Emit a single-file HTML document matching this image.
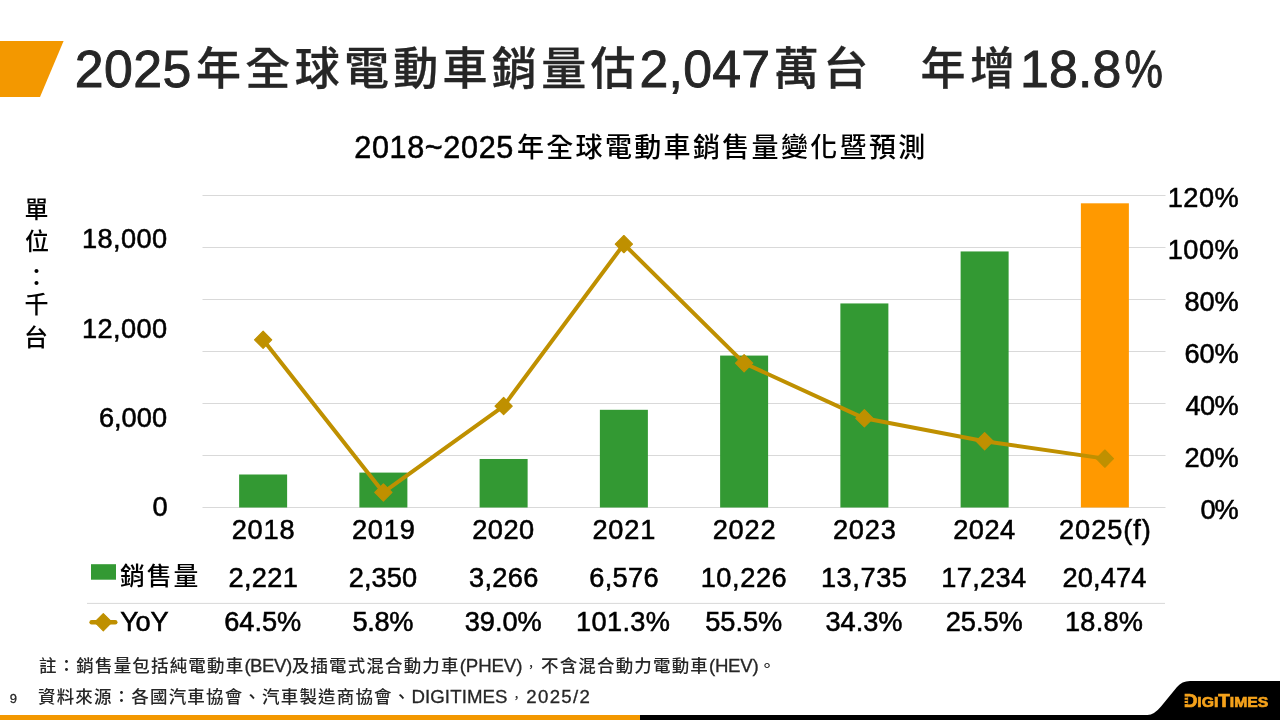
<!DOCTYPE html>
<html lang="zh-Hant">
<head>
<meta charset="utf-8">
<title>2025年全球電動車銷量估2,047萬台 年增18.8%</title>
<style>
html,body{margin:0;padding:0;background:#fff;}
body{width:1280px;height:720px;overflow:hidden;font-family:"Liberation Sans","Noto Sans CJK TC",sans-serif;}
svg{display:block;position:absolute;left:0;top:0;}
text{white-space:pre;}
</style>
</head>
<body>
<svg width="1280" height="720" viewBox="0 0 1280 720">
<rect width="1280" height="720" fill="#ffffff"/>
<path d="M0 41 L63.6 41 L40 97 L0 97 Z" fill="#f39800"/>
<rect x="0" y="715" width="640" height="5" fill="#f39800"/>
<rect x="640" y="715" width="640" height="5" fill="#000"/>
<path d="M1280 681 L1190 681 Q1181.9 681 1177 687 L1161 706.5 Q1154 715 1147.5 715 L1280 715 Z" fill="#000"/>
<text x="1183.7" y="706.7" fill="#f5a21b" stroke="#f5a21b" stroke-width="0.7" textLength="84.6" lengthAdjust="spacingAndGlyphs" style="font-family:'Liberation Sans', sans-serif;font-weight:bold;font-size:15px"><tspan style="font-size:18px">D</tspan>IGI<tspan style="font-size:18px">T</tspan>IMES</text>
<rect x="1182.4" y="696.6" width="5.2" height="1.1" fill="#000"/>
<rect x="1182.4" y="699.8" width="5.2" height="1.1" fill="#000"/>
<rect x="1182.4" y="703.0" width="5.2" height="1.1" fill="#000"/>
<rect x="202.5" y="195.0" width="963.0" height="1" fill="#d9d9d9"/>
<rect x="202.5" y="247.0" width="963.0" height="1" fill="#d9d9d9"/>
<rect x="202.5" y="299.0" width="963.0" height="1" fill="#d9d9d9"/>
<rect x="202.5" y="351.0" width="963.0" height="1" fill="#d9d9d9"/>
<rect x="202.5" y="403.0" width="963.0" height="1" fill="#d9d9d9"/>
<rect x="202.5" y="455.0" width="963.0" height="1" fill="#d9d9d9"/>
<rect x="202.5" y="507.0" width="963.0" height="1" fill="#d9d9d9"/>
<rect x="239.12" y="474.50" width="48" height="33.00" fill="#339933"/>
<rect x="359.38" y="472.59" width="48" height="34.91" fill="#339933"/>
<rect x="479.62" y="458.98" width="48" height="48.52" fill="#339933"/>
<rect x="599.88" y="409.80" width="48" height="97.70" fill="#339933"/>
<rect x="720.12" y="355.57" width="48" height="151.93" fill="#339933"/>
<rect x="840.38" y="303.44" width="48" height="204.06" fill="#339933"/>
<rect x="960.62" y="251.45" width="48" height="256.05" fill="#339933"/>
<rect x="1080.88" y="203.31" width="48" height="304.19" fill="#ff9900"/>
<polyline fill="none" stroke="#bf9000" stroke-width="4" stroke-linejoin="round" stroke-linecap="round" points="263.12,339.80 383.38,492.42 503.62,406.10 623.88,244.12 744.12,363.20 864.38,418.32 984.62,441.20 1104.88,458.62"/>
<path d="M263.12 331.20 L271.73 339.80 L263.12 348.40 L254.53 339.80 Z" fill="#bf9000" stroke="#bf9000" stroke-width="1.2" stroke-linejoin="round"/>
<path d="M383.38 483.82 L391.98 492.42 L383.38 501.02 L374.77 492.42 Z" fill="#bf9000" stroke="#bf9000" stroke-width="1.2" stroke-linejoin="round"/>
<path d="M503.62 397.50 L512.23 406.10 L503.62 414.70 L495.02 406.10 Z" fill="#bf9000" stroke="#bf9000" stroke-width="1.2" stroke-linejoin="round"/>
<path d="M623.88 235.52 L632.48 244.12 L623.88 252.72 L615.27 244.12 Z" fill="#bf9000" stroke="#bf9000" stroke-width="1.2" stroke-linejoin="round"/>
<path d="M744.12 354.60 L752.73 363.20 L744.12 371.80 L735.52 363.20 Z" fill="#bf9000" stroke="#bf9000" stroke-width="1.2" stroke-linejoin="round"/>
<path d="M864.38 409.72 L872.98 418.32 L864.38 426.92 L855.77 418.32 Z" fill="#bf9000" stroke="#bf9000" stroke-width="1.2" stroke-linejoin="round"/>
<path d="M984.62 432.60 L993.23 441.20 L984.62 449.80 L976.02 441.20 Z" fill="#bf9000" stroke="#bf9000" stroke-width="1.2" stroke-linejoin="round"/>
<path d="M1104.88 450.02 L1113.47 458.62 L1104.88 467.22 L1096.28 458.62 Z" fill="#bf9000" stroke="#bf9000" stroke-width="1.2" stroke-linejoin="round"/>
<rect x="87" y="602.9" width="1078.0" height="1" fill="#d9d9d9"/>
<rect x="91" y="564.2" width="25" height="15.5" fill="#339933"/>
<rect x="89.4" y="620.1" width="28.1" height="4.4" rx="2.2" fill="#bf9000"/>
<path d="M103.3 613.6 L111.89999999999999 622.2 L103.3 630.8000000000001 L94.7 622.2 Z" fill="#bf9000" stroke="#bf9000" stroke-width="1.2" stroke-linejoin="round"/>
<text x="74.70" y="87.00" fill="#262626" style="font-family:'Liberation Sans', sans-serif;font-size:51.8px;letter-spacing:0.476px;stroke:#262626;stroke-width:0.9px;">2025</text>
<text x="196.05" y="84.65" fill="#262626" style="font-family:'Liberation Sans', 'Noto Sans CJK TC', sans-serif;font-size:45px;letter-spacing:4.300px;font-weight:500;stroke:#262626;stroke-width:0.3px;">年全球電動車銷量估</text>
<text x="639.45" y="87.00" fill="#262626" style="font-family:'Liberation Sans', sans-serif;font-size:51.8px;letter-spacing:0.260px;stroke:#262626;stroke-width:0.9px;">2,047</text>
<text x="773.85" y="84.65" fill="#262626" style="font-family:'Liberation Sans', 'Noto Sans CJK TC', sans-serif;font-size:45px;letter-spacing:4.300px;font-weight:500;stroke:#262626;stroke-width:0.3px;">萬台</text>
<text x="920.60" y="84.65" fill="#262626" style="font-family:'Liberation Sans', 'Noto Sans CJK TC', sans-serif;font-size:45px;letter-spacing:4.300px;font-weight:500;stroke:#262626;stroke-width:0.3px;">年增</text>
<text x="1019.95" y="87.00" fill="#262626" style="font-family:'Liberation Sans', sans-serif;font-size:51.8px;letter-spacing:0.198px;stroke:#262626;stroke-width:0.9px;">18.8</text>
<text transform="translate(1124.54 87.00) scale(0.8352 1)" fill="#262626" style="font-family:'Liberation Sans', sans-serif;font-size:51.8px;stroke:#262626;stroke-width:0.9px;">%</text>
<text x="354.27" y="157.90" fill="#000" style="font-family:'Liberation Sans', sans-serif;font-size:30.6px;letter-spacing:0.635px;stroke:#000;stroke-width:0.55px;">2018~2025</text>
<text x="516.93" y="157.30" fill="#000" style="font-family:'Liberation Sans', 'Noto Sans CJK TC', sans-serif;font-size:27px;letter-spacing:2.330px;font-weight:500;">年全球電動車銷售量變化暨預測</text>
<text x="231.65" y="538.60" fill="#000" style="font-family:'Liberation Sans', sans-serif;font-size:27.2px;letter-spacing:0.863px;stroke:#000;stroke-width:0.55px;">2018</text>
<text x="351.90" y="538.60" fill="#000" style="font-family:'Liberation Sans', sans-serif;font-size:27.2px;letter-spacing:0.863px;stroke:#000;stroke-width:0.55px;">2019</text>
<text x="472.15" y="538.60" fill="#000" style="font-family:'Liberation Sans', sans-serif;font-size:27.2px;letter-spacing:0.530px;stroke:#000;stroke-width:0.55px;">2020</text>
<text x="592.40" y="538.60" fill="#000" style="font-family:'Liberation Sans', sans-serif;font-size:27.2px;letter-spacing:0.863px;stroke:#000;stroke-width:0.55px;">2021</text>
<text x="712.65" y="538.60" fill="#000" style="font-family:'Liberation Sans', sans-serif;font-size:27.2px;letter-spacing:0.863px;stroke:#000;stroke-width:0.55px;">2022</text>
<text x="832.90" y="538.60" fill="#000" style="font-family:'Liberation Sans', sans-serif;font-size:27.2px;letter-spacing:0.863px;stroke:#000;stroke-width:0.55px;">2023</text>
<text x="953.15" y="538.60" fill="#000" style="font-family:'Liberation Sans', sans-serif;font-size:27.2px;letter-spacing:0.530px;stroke:#000;stroke-width:0.55px;">2024</text>
<text x="1059.00" y="538.60" fill="#000" style="font-family:'Liberation Sans', sans-serif;font-size:27.2px;letter-spacing:0.944px;stroke:#000;stroke-width:0.55px;">2025(f)</text>
<text x="228.60" y="586.90" fill="#000" style="font-family:'Liberation Sans', sans-serif;font-size:27.2px;letter-spacing:0.284px;stroke:#000;stroke-width:0.55px;">2,221</text>
<text x="348.85" y="586.90" fill="#000" style="font-family:'Liberation Sans', sans-serif;font-size:27.2px;letter-spacing:0.034px;stroke:#000;stroke-width:0.55px;">2,350</text>
<text x="469.10" y="586.90" fill="#000" style="font-family:'Liberation Sans', sans-serif;font-size:27.2px;letter-spacing:0.284px;stroke:#000;stroke-width:0.55px;">3,266</text>
<text x="589.35" y="586.90" fill="#000" style="font-family:'Liberation Sans', sans-serif;font-size:27.2px;letter-spacing:0.284px;stroke:#000;stroke-width:0.55px;">6,576</text>
<text x="700.65" y="586.90" fill="#000" style="font-family:'Liberation Sans', sans-serif;font-size:27.2px;letter-spacing:0.583px;stroke:#000;stroke-width:0.55px;">10,226</text>
<text x="820.90" y="586.90" fill="#000" style="font-family:'Liberation Sans', sans-serif;font-size:27.2px;letter-spacing:0.583px;stroke:#000;stroke-width:0.55px;">13,735</text>
<text x="941.15" y="586.90" fill="#000" style="font-family:'Liberation Sans', sans-serif;font-size:27.2px;letter-spacing:0.383px;stroke:#000;stroke-width:0.55px;">17,234</text>
<text x="1062.40" y="586.90" fill="#000" style="font-family:'Liberation Sans', sans-serif;font-size:27.2px;letter-spacing:0.183px;stroke:#000;stroke-width:0.55px;">20,474</text>
<text x="224.25" y="631.30" fill="#000" style="font-family:'Liberation Sans', sans-serif;font-size:27.2px;letter-spacing:-0.041px;stroke:#000;stroke-width:0.55px;">64.5%</text>
<text x="352.45" y="631.30" fill="#000" style="font-family:'Liberation Sans', sans-serif;font-size:27.2px;letter-spacing:-0.315px;stroke:#000;stroke-width:0.55px;">5.8%</text>
<text x="464.75" y="631.30" fill="#000" style="font-family:'Liberation Sans', sans-serif;font-size:27.2px;letter-spacing:-0.041px;stroke:#000;stroke-width:0.55px;">39.0%</text>
<text x="576.05" y="631.30" fill="#000" style="font-family:'Liberation Sans', sans-serif;font-size:27.2px;letter-spacing:0.323px;stroke:#000;stroke-width:0.55px;">101.3%</text>
<text x="705.25" y="631.30" fill="#000" style="font-family:'Liberation Sans', sans-serif;font-size:27.2px;letter-spacing:-0.041px;stroke:#000;stroke-width:0.55px;">55.5%</text>
<text x="825.50" y="631.30" fill="#000" style="font-family:'Liberation Sans', sans-serif;font-size:27.2px;letter-spacing:-0.041px;stroke:#000;stroke-width:0.55px;">34.3%</text>
<text x="945.75" y="631.30" fill="#000" style="font-family:'Liberation Sans', sans-serif;font-size:27.2px;letter-spacing:-0.041px;stroke:#000;stroke-width:0.55px;">25.5%</text>
<text x="1065.00" y="631.30" fill="#000" style="font-family:'Liberation Sans', sans-serif;font-size:27.2px;letter-spacing:0.209px;stroke:#000;stroke-width:0.55px;">18.8%</text>
<text x="1167.73" y="207.10" fill="#000" style="font-family:'Liberation Sans', sans-serif;font-size:27.2px;letter-spacing:0.463px;stroke:#000;stroke-width:0.55px;">120%</text>
<text x="1167.73" y="259.10" fill="#000" style="font-family:'Liberation Sans', sans-serif;font-size:27.2px;letter-spacing:0.463px;stroke:#000;stroke-width:0.55px;">100%</text>
<text x="1184.62" y="311.10" fill="#000" style="font-family:'Liberation Sans', sans-serif;font-size:27.2px;letter-spacing:-0.195px;stroke:#000;stroke-width:0.55px;">80%</text>
<text x="1184.62" y="363.10" fill="#000" style="font-family:'Liberation Sans', sans-serif;font-size:27.2px;letter-spacing:-0.195px;stroke:#000;stroke-width:0.55px;">60%</text>
<text x="1185.62" y="415.10" fill="#000" style="font-family:'Liberation Sans', sans-serif;font-size:27.2px;letter-spacing:-0.695px;stroke:#000;stroke-width:0.55px;">40%</text>
<text x="1184.62" y="467.10" fill="#000" style="font-family:'Liberation Sans', sans-serif;font-size:27.2px;letter-spacing:-0.195px;stroke:#000;stroke-width:0.55px;">20%</text>
<text x="1200.53" y="519.10" fill="#000" style="font-family:'Liberation Sans', sans-serif;font-size:27.2px;letter-spacing:-1.170px;stroke:#000;stroke-width:0.55px;">0%</text>
<text x="81.97" y="248.40" fill="#000" style="font-family:'Liberation Sans', sans-serif;font-size:27.2px;letter-spacing:0.383px;stroke:#000;stroke-width:0.55px;">18,000</text>
<text x="81.97" y="337.54" fill="#000" style="font-family:'Liberation Sans', sans-serif;font-size:27.2px;letter-spacing:0.383px;stroke:#000;stroke-width:0.55px;">12,000</text>
<text x="98.88" y="426.68" fill="#000" style="font-family:'Liberation Sans', sans-serif;font-size:27.2px;letter-spacing:0.034px;stroke:#000;stroke-width:0.55px;">6,000</text>
<text x="152.57" y="515.82" fill="#000" style="font-family:'Liberation Sans', sans-serif;font-size:27.2px;stroke:#000;stroke-width:0.55px;">0</text>
<text x="120.08" y="585.30" fill="#000" style="font-family:'Liberation Sans', 'Noto Sans CJK TC', sans-serif;font-size:24.8px;letter-spacing:1.870px;font-weight:500;">銷售量</text>
<text x="120.28" y="631.30" fill="#000" style="font-family:'Liberation Sans', sans-serif;font-size:27.2px;letter-spacing:-0.279px;stroke:#000;stroke-width:0.55px;">YoY</text>
<text x="24.50" y="217.50" fill="#000" style="font-family:'Liberation Sans', 'Noto Sans CJK TC', sans-serif;font-size:24px;font-weight:500;">單</text>
<text x="25.00" y="250.10" fill="#000" style="font-family:'Liberation Sans', 'Noto Sans CJK TC', sans-serif;font-size:24px;font-weight:500;">位</text>
<text x="24.50" y="285.60" fill="#000" style="font-family:'Liberation Sans', 'Noto Sans CJK TC', sans-serif;font-size:24px;font-weight:500;">：</text>
<text x="24.50" y="313.40" fill="#000" style="font-family:'Liberation Sans', 'Noto Sans CJK TC', sans-serif;font-size:24px;font-weight:500;">千</text>
<text x="24.00" y="346.30" fill="#000" style="font-family:'Liberation Sans', 'Noto Sans CJK TC', sans-serif;font-size:24px;font-weight:500;">台</text>
<text x="9.65" y="702.60" fill="#262626" style="font-family:'Liberation Sans', sans-serif;font-size:13px;stroke:#262626;stroke-width:0.3px;">9</text>
<text x="39.0" y="672.4" fill="#262626" style="font-family:'Liberation Sans', 'Noto Sans CJK TC', sans-serif;font-size:17.5px;letter-spacing:1.17px;font-weight:500"><tspan>註：銷售量包括純電動車</tspan><tspan style="font-size:18.67px;letter-spacing:-0.5px;font-weight:normal;stroke:#262626;stroke-width:0.3px">(BEV)</tspan><tspan>及插電式混合動力車</tspan><tspan style="font-size:18.67px;letter-spacing:-0.1px;font-weight:normal;stroke:#262626;stroke-width:0.3px">(PHEV)</tspan><tspan dx="3" dy="-1.5" style="font-size:11.5px;letter-spacing:4.17px">，</tspan><tspan dy="1.5">不含混合動力電動車</tspan><tspan style="font-size:18.67px;letter-spacing:-0.3px;font-weight:normal;stroke:#262626;stroke-width:0.3px">(HEV)</tspan><tspan>。</tspan></text>
<text x="38.0" y="703.0" fill="#262626" style="font-family:'Liberation Sans', 'Noto Sans CJK TC', sans-serif;font-size:17.5px;letter-spacing:1.17px;font-weight:500"><tspan>資料來源：各國汽車協會、汽車製造商協會、</tspan><tspan style="font-size:18.67px;letter-spacing:0.1px;font-weight:normal;stroke:#262626;stroke-width:0.3px">DIGITIMES</tspan><tspan dx="3" dy="-1.5" style="font-size:11.5px;letter-spacing:4.17px">，</tspan><tspan dy="1.5" style="font-size:18.67px;letter-spacing:1.3px;font-weight:normal;stroke:#262626;stroke-width:0.3px">2025/2</tspan></text>
</svg>
</body>
</html>
